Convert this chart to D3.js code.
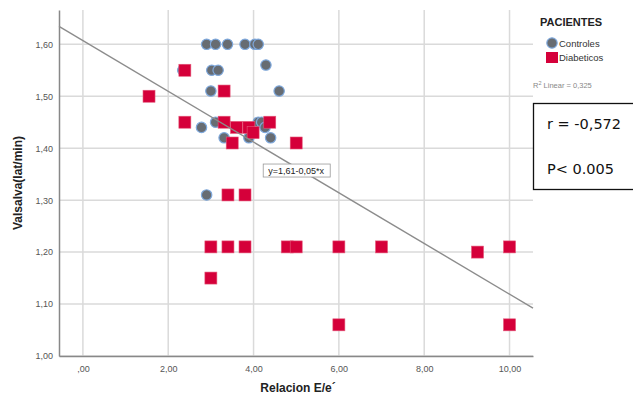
<!DOCTYPE html>
<html lang="es">
<head>
<meta charset="UTF-8">
<title>Valsalva vs Relacion E/e</title>
<script src="https://d3js.org/d3.v7.min.js"></script>
<style>
  body { margin: 0; background: #fff; }
  svg { display: block; font-family: "Liberation Sans", Arial, sans-serif; }
</style>
</head>
<body>
<svg id="chart" width="633" height="397"></svg>
<script>
// data
const controlX = [2.90, 3.11, 3.39, 3.80, 4.03, 4.11, 4.29, 2.34, 3.02, 3.17, 3.00, 4.60,
                  2.78, 3.11, 3.31, 3.89, 4.11, 4.19, 4.27, 4.40, 2.90];
const controlY = [1.60, 1.60, 1.60, 1.60, 1.60, 1.60, 1.56, 1.55, 1.55, 1.55, 1.51, 1.51,
                  1.44, 1.45, 1.42, 1.42, 1.45, 1.45, 1.44, 1.42, 1.31];
const diabX = [1.55, 2.39, 2.39, 3.31, 3.31, 3.60, 3.50, 3.89, 3.99, 4.38, 5.00,
               3.40, 3.80, 3.00, 3.40, 3.80, 4.79, 5.00, 6.00, 7.00, 9.25, 10.00,
               3.00, 6.00, 10.00];
const diabY = [1.50, 1.55, 1.45, 1.51, 1.45, 1.44, 1.41, 1.44, 1.43, 1.45, 1.41,
               1.31, 1.31, 1.21, 1.21, 1.21, 1.21, 1.21, 1.21, 1.21, 1.20, 1.21,
               1.15, 1.06, 1.06];
const xTicks = [0, 2, 4, 6, 8, 10];
const yTicks = [1.0, 1.1, 1.2, 1.3, 1.4, 1.5, 1.6];
const fitA = 1.607, fitB = -0.0488;
const fitLabel = "y=1,61-0,05*x";
const r2Label = "Linear = 0,325";
const statLines = ["r = -0,572", "P< 0.005"];

const svg = d3.select("#chart");
const x = d3.scaleLinear().domain([-0.56, 10.55]).range([59, 533]);
const y = d3.scaleLinear().domain([1.0, 1.666]).range([356, 10]);
const fmt = v => d3.format(".2f")(v).replace(".", ",").replace(/^0,/, ",");

// gridlines
svg.append("g").selectAll("line").data(yTicks).join("line")
  .attr("x1", x.range()[0]).attr("x2", x.range()[1])
  .attr("y1", d => y(d)).attr("y2", d => y(d))
  .attr("stroke", "#dadada").attr("stroke-width", 1.5);
svg.append("g").selectAll("line").data(xTicks).join("line")
  .attr("x1", d => x(d)).attr("x2", d => x(d))
  .attr("y1", y.range()[0]).attr("y2", y.range()[1])
  .attr("stroke", "#dadada").attr("stroke-width", 1.5);

// axes
const xAxis = svg.append("g").attr("transform", `translate(0,${y(1.0)})`)
  .call(d3.axisBottom(x).tickValues(xTicks).tickSize(0).tickPadding(10).tickFormat(fmt));
const yAxis = svg.append("g").attr("transform", `translate(${x.range()[0]},0)`)
  .call(d3.axisLeft(y).tickValues(yTicks).tickSize(0).tickPadding(6).tickFormat(fmt));
[xAxis, yAxis].forEach(g => {
  g.select(".domain").attr("stroke", "#888").attr("stroke-width", 1.5);
  g.selectAll("text").attr("fill", "#555").attr("font-size", 9)
    .attr("font-family", "'Liberation Sans', Arial, sans-serif");
});

// points
svg.append("g").selectAll("circle").data(controlX).join("circle")
  .attr("cx", d => x(d)).attr("cy", (d, i) => y(controlY[i])).attr("r", 5.2)
  .attr("fill", "#676c72").attr("stroke", "#7ea8dc").attr("stroke-width", 1.2);
const sq = 12;
svg.append("g").selectAll("rect").data(diabX).join("rect")
  .attr("x", d => x(d) - sq / 2).attr("y", (d, i) => y(diabY[i]) - sq / 2)
  .attr("width", sq).attr("height", sq)
  .attr("fill", "#d5003a").attr("stroke", "#e4587a").attr("stroke-width", 0.6);

// fit line
const xd = x.domain();
svg.append("line")
  .attr("x1", x(xd[0])).attr("y1", y(fitA + fitB * xd[0]))
  .attr("x2", x(xd[1])).attr("y2", y(fitA + fitB * xd[1]))
  .attr("stroke", "#8c8c8c").attr("stroke-width", 1.4);

// fit label
const lx = x(5.0), ly = y(1.357);
svg.append("rect").attr("x", lx - 33).attr("y", ly - 6.5).attr("width", 67).attr("height", 13)
  .attr("fill", "#fff").attr("stroke", "#999").attr("stroke-width", 0.8);
svg.append("text").attr("x", lx).attr("y", ly + 3.5).attr("text-anchor", "middle")
  .attr("font-size", 9).attr("fill", "#222").text(fitLabel);

// axis titles
svg.append("text").attr("x", 298).attr("y", 392).attr("text-anchor", "middle")
  .attr("font-size", 12).attr("font-weight", "bold").attr("fill", "#222").text("Relacion E/e´");
svg.append("text").attr("transform", "translate(22,183) rotate(-90)").attr("text-anchor", "middle")
  .attr("font-size", 12).attr("font-weight", "bold").attr("fill", "#222").text("Valsalva(lat/min)");

// legend
const lg = svg.append("g");
lg.append("text").attr("x", 540).attr("y", 26).attr("font-size", 11).attr("font-weight", "bold")
  .attr("fill", "#222").text("PACIENTES");
lg.append("circle").attr("cx", 552).attr("cy", 43).attr("r", 5.2)
  .attr("fill", "#676c72").attr("stroke", "#7ea8dc").attr("stroke-width", 1.2);
lg.append("text").attr("x", 559).attr("y", 47).attr("font-size", 9.5).attr("fill", "#333").text("Controles");
lg.append("rect").attr("x", 546).attr("y", 52).attr("width", 12).attr("height", 11).attr("fill", "#d5003a");
lg.append("text").attr("x", 559).attr("y", 61).attr("font-size", 9.5).attr("fill", "#333").text("Diabeticos");
const r2 = lg.append("text").attr("x", 533).attr("y", 88).attr("font-size", 7.5).attr("fill", "#888");
r2.append("tspan").text("R");
r2.append("tspan").attr("dy", -3).attr("font-size", 5.5).text("2");
r2.append("tspan").attr("dy", 3).text(" " + r2Label);

// stats box
svg.append("rect").attr("x", 533.5).attr("y", 103.5).attr("width", 110).attr("height", 86)
  .attr("fill", "#fff").attr("stroke", "#111").attr("stroke-width", 1.3);
svg.selectAll(".stat").data(statLines).join("text")
  .attr("x", 547).attr("y", (d, i) => 129 + i * 45)
  .attr("font-size", 14.5).attr("fill", "#111")
  .attr("font-family", "'DejaVu Sans', Verdana, sans-serif").text(d => d);
</script>
</body>
</html>
